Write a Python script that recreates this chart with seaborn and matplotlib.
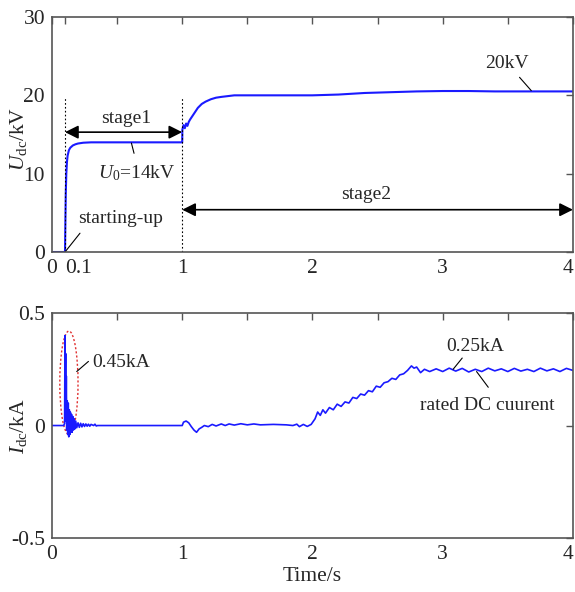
import numpy as np
import pandas as pd
import matplotlib
matplotlib.use('Agg')
import matplotlib.pyplot as plt
from matplotlib.patches import Ellipse
import seaborn as sns

# ---------------- data ----------------
# DC voltage U_dc (kV)
u_time = [0, 0.1, 0.103, 0.106, 0.11, 0.115, 0.12, 0.13, 0.14, 0.16, 0.18, 0.2, 0.24, 0.3, 0.4,
          0.6, 0.8, 1.0, 1.001, 1.01, 1.02, 1.03, 1.04, 1.05, 1.06, 1.08, 1.1, 1.12, 1.15, 1.18,
          1.22, 1.26, 1.3, 1.35, 1.4, 1.5, 1.6, 1.8, 2.0, 2.2, 2.4, 2.6, 2.8, 3.0, 3.2, 3.4,
          3.6, 3.8, 4.0]
u_vals = [0, 0, 4.0, 7.5, 10.0, 11.5, 12.3, 13.0, 13.3, 13.6, 13.75, 13.85, 13.95, 14.0, 14.0,
          14.0, 14.0, 14.0, 15.6, 16.2, 15.8, 16.4, 16.1, 16.6, 16.9, 17.4, 17.9, 18.4, 18.9, 19.2,
          19.5, 19.7, 19.8, 19.9, 20.0, 20.0, 20.0, 20.0, 20.0, 20.1, 20.3, 20.4, 20.5, 20.55,
          20.55, 20.5, 20.5, 20.5, 20.5]

# DC current I_dc (kA)
i_time = [0, 0.09, 0.097, 0.1, 0.102, 0.105, 0.107, 0.11, 0.113, 0.117, 0.121, 0.125, 0.129,
          0.133, 0.137, 0.141, 0.145, 0.15, 0.155, 0.16, 0.165, 0.17, 0.176, 0.182, 0.19, 0.2,
          0.21, 0.22, 0.23, 0.24, 0.25, 0.26, 0.27, 0.28, 0.29, 0.3, 0.32, 0.33, 0.34, 0.35,
          1.0, 1.01, 1.03, 1.05, 1.07, 1.09, 1.11, 1.13, 1.15, 1.17, 1.2, 1.23, 1.26, 1.3, 1.33,
          1.36, 1.4, 1.45, 1.5, 1.55, 1.6, 1.7, 1.8, 1.85, 1.88, 1.9, 1.93, 1.96, 1.99,
          2.02, 2.04, 2.06, 2.08, 2.1, 2.13, 2.16, 2.19, 2.22, 2.25, 2.28, 2.31, 2.34, 2.37,
          2.4, 2.43, 2.46, 2.49, 2.52, 2.55, 2.58, 2.61, 2.64, 2.67, 2.7, 2.73, 2.76, 2.78,
          2.8, 2.83, 2.86, 2.9, 2.95, 3.0, 3.05, 3.1, 3.15, 3.2, 3.25, 3.3, 3.35, 3.4, 3.45,
          3.5, 3.55, 3.6, 3.65, 3.7, 3.75, 3.8, 3.85, 3.9, 3.95, 4.0]
i_vals = [0, 0, 0.01, 0.40, 0.05, 0.32, 0.02, 0.22, -0.02, 0.11, -0.04, 0.10, -0.05,
          0.07, -0.04, 0.06, -0.03, 0.05, -0.03, 0.04, -0.02, 0.03, -0.015, 0.02, -0.01, 0.012,
          -0.008, 0.01, -0.006, 0.008, -0.004, 0.007, -0.003, 0.006, -0.003, 0.005, 0.0, 0.006, -0.002, 0,
          0, 0.015, 0.02, 0.012, -0.005, -0.02, -0.03, -0.015, -0.008, 0.0, -0.005, 0.005, -0.002, 0.007, 0.0,
          0.007, 0.002, 0.008, 0.003, 0.007, 0.003, 0.005, 0.003, 0.0, 0.006, -0.005, 0.005, -0.004, 0.005,
          0.03, 0.06, 0.045, 0.07, 0.055, 0.08, 0.07, 0.095, 0.085, 0.105, 0.1, 0.125, 0.12, 0.14,
          0.135, 0.155, 0.15, 0.175, 0.17, 0.19, 0.195, 0.21, 0.205, 0.225, 0.23, 0.245, 0.265, 0.255,
          0.26, 0.235, 0.25, 0.24, 0.252, 0.24, 0.255, 0.242, 0.254, 0.238, 0.25, 0.24, 0.255, 0.243, 0.252,
          0.24, 0.254, 0.242, 0.25, 0.24, 0.255, 0.243, 0.252, 0.24, 0.254, 0.245]

top_xticks = [0, 0.1, 1, 2, 3, 4]
top_xlabels = ['0', '0.1', '1', '2', '3', '4']
bot_xticks = [0, 1, 2, 3, 4]
bot_xlabels = ['0', '1', '2', '3', '4']
u_yticks = [0, 10, 20, 30]
i_yticks = [-0.5, 0, 0.5]
i_ylabels = ['-0.5', '0', '0.5']

df_u = pd.DataFrame({'t': u_time, 'u': u_vals})
df_i = pd.DataFrame({'t': i_time, 'i': i_vals})

# ---------------- style ----------------
sns.set_theme(style='white')
plt.rcParams['font.family'] = ['Liberation Serif', 'DejaVu Serif']
plt.rcParams['mathtext.fontset'] = 'custom'
plt.rcParams['mathtext.rm'] = 'Liberation Serif'
plt.rcParams['mathtext.it'] = 'Liberation Serif:italic'

LINE = '#1a1aff'
SPINE = '#555555'

fig = plt.figure(figsize=(5.75, 5.92), dpi=100)
ax1 = fig.add_axes([0.0904, 0.5743, 0.906, 0.397])
ax2 = fig.add_axes([0.0904, 0.0912, 0.906, 0.380])


def style_axes(ax):
    for s in ax.spines.values():
        s.set_color(SPINE)
        s.set_linewidth(1.2)
    ax.tick_params(which='both', direction='in', top=True, right=True, length=5,
                   width=1.0, color=SPINE, labelsize=15.5, pad=5)
    ax.set_xticks([0.5, 1.5, 2.5, 3.5], minor=True)
    ax.tick_params(which='minor', bottom=False, top=True)


# ---------------- top: U_dc ----------------
sns.lineplot(data=df_u, x='t', y='u', ax=ax1, color=LINE, lw=1.5, estimator=None, sort=False)
style_axes(ax1)
ax1.set_xlim(0, 4)
ax1.set_ylim(0, 30)
ax1.set_xticks(top_xticks)
ax1.set_xticklabels(top_xlabels)
ax1.get_xticklabels()[1].set_horizontalalignment('left')
ax1.get_xticklabels()[-1].set_horizontalalignment('right')
ax1.set_yticks(u_yticks)
ax1.set_xlabel('')
ax1.set_ylabel(r'$U_{\rm dc}$/kV', fontsize=15.5)
ax1.yaxis.set_label_coords(-0.045, 0.48)

for xv in [0.1, 1.0]:
    ax1.plot([xv, xv], [0, 19.8], ls=(0, (1.5, 2)), color='black', lw=0.8)

arrow = dict(arrowstyle='<|-|>', color='black', lw=1.2, mutation_scale=20, shrinkA=0, shrinkB=0)
ax1.annotate('', xy=(0.1, 15.3), xytext=(1.0, 15.3), arrowprops=arrow)
ax1.annotate('', xy=(1.0, 5.4), xytext=(4.0, 5.4), arrowprops=arrow)

ax1.text(0.57, 16.0, 'stage1', ha='center', va='bottom', fontsize=14)
ax1.text(2.41, 6.2, 'stage2', ha='center', va='bottom', fontsize=14)
ax1.text(0.65, 10.1, r'$U_0$=14kV', ha='center', va='center', fontsize=14)
ax1.plot([0.61, 0.63], [13.9, 12.6], color='black', lw=0.8)
ax1.text(0.53, 4.3, 'starting-up', ha='center', va='center', fontsize=14)
ax1.plot([0.1, 0.215], [0, 2.4], color='black', lw=0.8)
ax1.text(3.49, 24.1, '20kV', ha='center', va='center', fontsize=14)
ax1.plot([3.59, 3.68], [22.3, 20.6], color='black', lw=0.8)

# ---------------- bottom: I_dc ----------------
sns.lineplot(data=df_i, x='t', y='i', ax=ax2, color=LINE, lw=1.2, estimator=None, sort=False)
style_axes(ax2)
ax2.set_xlim(0, 4)
ax2.set_ylim(-0.5, 0.5)
ax2.set_xticks(bot_xticks)
ax2.set_xticklabels(bot_xlabels)
ax2.get_xticklabels()[-1].set_horizontalalignment('right')
ax2.set_yticks(i_yticks)
ax2.set_yticklabels(i_ylabels)
ax2.set_xlabel('Time/s', fontsize=15.5, labelpad=2)
ax2.set_ylabel(r'$I_{\rm dc}$/kA', fontsize=15.5)
ax2.yaxis.set_label_coords(-0.045, 0.5)

ax2.add_patch(Ellipse((0.13, 0.19), 0.14, 0.46, fill=False, ec='#e03030',
                      ls=(0, (1.5, 1.5)), lw=1.0))
ax2.text(0.53, 0.28, '0.45kA', ha='center', va='center', fontsize=14)
ax2.plot([0.19, 0.28], [0.24, 0.285], color='black', lw=0.8)
ax2.text(3.25, 0.35, '0.25kA', ha='center', va='center', fontsize=14)
ax2.plot([3.15, 3.08], [0.30, 0.25], color='black', lw=0.8)
ax2.text(3.34, 0.09, 'rated DC cuurent', ha='center', va='center', fontsize=14)
ax2.plot([3.26, 3.35], [0.24, 0.17], color='black', lw=0.8)

fig.savefig('out.png', dpi=100)
